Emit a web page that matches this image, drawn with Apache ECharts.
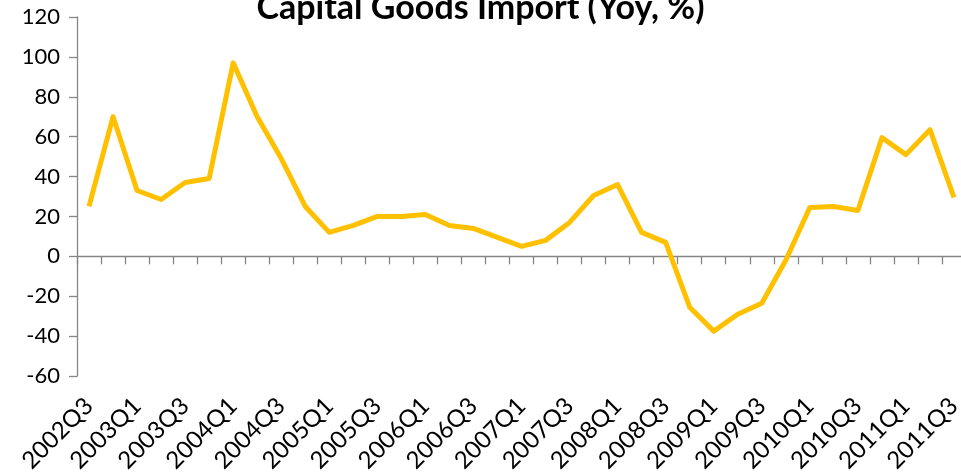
<!DOCTYPE html>
<html>
<head>
<meta charset="utf-8">
<script src="https://cdn.jsdelivr.net/npm/echarts@6/dist/echarts.min.js"></script>
<style>
  html, body { margin: 0; padding: 0; background: #fff; }
  #chart { width: 961px; height: 474px; }
</style>
</head>
<body>
<div id="chart"></div>
<script>
  // quarters 2002Q3 .. 2011Q3
  const quarters = [
    '2002Q3', '2002Q4', '2003Q1', '2003Q2', '2003Q3', '2003Q4',
    '2004Q1', '2004Q2', '2004Q3', '2004Q4', '2005Q1', '2005Q2',
    '2005Q3', '2005Q4', '2006Q1', '2006Q2', '2006Q3', '2006Q4',
    '2007Q1', '2007Q2', '2007Q3', '2007Q4', '2008Q1', '2008Q2',
    '2008Q3', '2008Q4', '2009Q1', '2009Q2', '2009Q3', '2009Q4',
    '2010Q1', '2010Q2', '2010Q3', '2010Q4', '2011Q1', '2011Q2',
    '2011Q3'
  ];
  // yoy growth, %
  const yoy = [
    25, 70, 33, 28.5, 37, 39,
    97, 70, 49, 25, 12, 15.5,
    20, 20, 21, 15.5, 14, 9.5,
    5, 8, 17, 30.5, 36, 12,
    7, -25.5, -37.5, -29, -23.5, -2,
    24.5, 25, 23, 59.5, 51, 63.5,
    29.5
  ];

  const font = 'Lato';
  const axisGray = '#868686';

  let ec = echarts.init(document.getElementById('chart'));
  let option = {
    animation: false,
    title: {
      text: 'Capital Goods Import (Yoy, %)',
      left: 'center',
      top: -14,
      textStyle: { fontFamily: font, fontWeight: 'bold', fontSize: 34, color: '#000' }
    },
    grid: { left: 77, right: -5, top: 17, bottom: 98, outerBoundsMode: 'none' },
    xAxis: [{
      type: 'category',
      data: quarters,
      boundaryGap: true,
      axisLine: { onZero: true, lineStyle: { color: axisGray, width: 1.3 } },
      axisTick: { show: true, interval: 0, length: 8, lineStyle: { color: axisGray, width: 1.3 } },
      axisLabel: { show: false },
      splitLine: { show: false }
    }, {
      type: 'category',
      data: quarters,
      position: 'bottom',
      boundaryGap: true,
      axisLine: { show: false, onZero: false },
      axisTick: { show: false },
      axisLabel: { interval: 1, rotate: 45, margin: 26, fontFamily: font, fontSize: 24, color: '#000' },
      splitLine: { show: false }
    }],
    yAxis: {
      type: 'value',
      min: -60,
      max: 120,
      interval: 20,
      axisLine: { show: true, lineStyle: { color: axisGray, width: 1.3 } },
      axisTick: { show: true, length: 8, lineStyle: { color: axisGray, width: 1.3 } },
      axisLabel: { margin: 17, fontFamily: font, fontSize: 22, color: '#000' },
      splitLine: { show: false }
    },
    series: [{
      type: 'line',
      xAxisIndex: 0,
      data: yoy,
      symbol: 'none',
      lineStyle: { color: '#FFC000', width: 5, join: 'round' }
    }]
  };
  ec.setOption(option);
</script>
</body>
</html>
